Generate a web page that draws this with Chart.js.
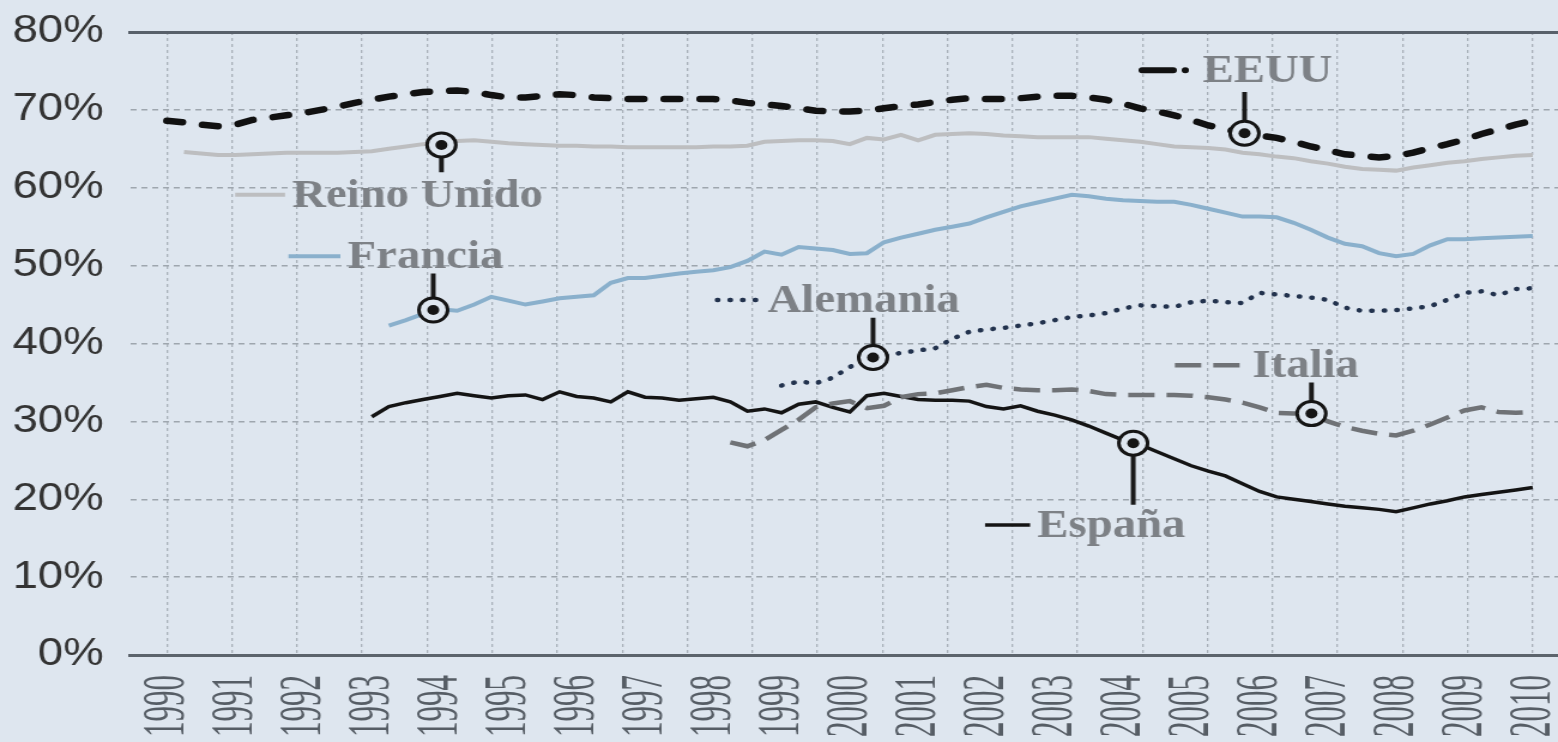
<!DOCTYPE html>
<html>
<head>
<meta charset="utf-8">
<script src="https://cdn.jsdelivr.net/npm/chart.js@4.4.1/dist/chart.umd.min.js"></script>
<style>
  html, body { margin: 0; padding: 0; background: #dee6ef; overflow: hidden; }
  /* the reference picture is stretched sideways, so the chart is drawn narrower and widened */
  #wrap { width: 1300px; height: 742px; transform: scaleX(1.19846); transform-origin: 0 0; }
</style>
</head>
<body>
<div id="wrap"><canvas id="chart"></canvas></div>
<script>
// quarterly periods
const quarters = [
  1990, 1990.25, 1990.5, 1990.75, 1991, 1991.25, 1991.5, 1991.75,
  1992, 1992.25, 1992.5, 1992.75, 1993, 1993.25, 1993.5, 1993.75,
  1994, 1994.25, 1994.5, 1994.75, 1995, 1995.25, 1995.5, 1995.75,
  1996, 1996.25, 1996.5, 1996.75, 1997, 1997.25, 1997.5, 1997.75,
  1998, 1998.25, 1998.5, 1998.75, 1999, 1999.25, 1999.5, 1999.75,
  2000, 2000.25, 2000.5, 2000.75, 2001, 2001.25, 2001.5, 2001.75,
  2002, 2002.25, 2002.5, 2002.75, 2003, 2003.25, 2003.5, 2003.75,
  2004, 2004.25, 2004.5, 2004.75, 2005, 2005.25, 2005.5, 2005.75,
  2006, 2006.25, 2006.5, 2006.75, 2007, 2007.25, 2007.5, 2007.75,
  2008, 2008.25, 2008.5, 2008.75, 2009, 2009.25, 2009.5, 2009.75,
  2010
];
const years = [1990, 1991, 1992, 1993, 1994, 1995, 1996, 1997, 1998, 1999, 2000,
  2001, 2002, 2003, 2004, 2005, 2006, 2007, 2008, 2009, 2010];
const yTicks = [0, 10, 20, 30, 40, 50, 60, 70, 80];

const eeuu = [
  68.6, 68.4, 68.1, 67.9, 68.1, 68.7, 69.0, 69.3,
  69.6, 70.0, 70.4, 70.9, 71.3, 71.7, 72.0, 72.3,
  72.4, 72.5, 72.3, 71.9, 71.6, 71.6, 71.8, 72.0,
  71.9, 71.6, 71.5, 71.4, 71.4, 71.4, 71.4, 71.4,
  71.4, 71.2, 70.9, 70.7, 70.5, 70.2, 69.9, 69.8,
  69.8, 69.9, 70.2, 70.5, 70.7, 71.0, 71.3, 71.5,
  71.4, 71.4, 71.5, 71.7, 71.8, 71.8, 71.6, 71.3,
  70.8, 70.2, 69.8, 69.3, 68.7, 68.0, 67.5, 67.0,
  66.7, 66.4, 65.9, 65.3, 64.8, 64.3, 64.1, 63.9,
  64.1, 64.5, 65.1, 65.6, 66.2, 66.9, 67.5, 68.1,
  68.6
];
const reinoUnido = [
  null, 64.6, 64.4, 64.2, 64.2, 64.3, 64.4, 64.5,
  64.5, 64.5, 64.5, 64.6, 64.7, 65.0, 65.3, 65.6,
  65.8, 66.0, 66.1, 65.9, 65.7, 65.6, 65.5, 65.4,
  65.4, 65.3, 65.3, 65.2, 65.2, 65.2, 65.2, 65.2,
  65.3, 65.3, 65.4, 65.9, 66.0, 66.1, 66.1, 66.0,
  65.6, 66.4, 66.2, 66.8, 66.1, 66.8, 66.9, 67.0,
  66.9, 66.7, 66.6, 66.5, 66.5, 66.5, 66.5, 66.3,
  66.1, 65.9, 65.6, 65.3, 65.2, 65.1, 64.9, 64.5,
  64.3, 64.0, 63.8, 63.4, 63.1, 62.7, 62.4, 62.3,
  62.2, 62.6, 62.9, 63.2, 63.4, 63.7, 63.9, 64.1,
  64.2
];
const francia = [
  null, null, null, null, null, null, null, null,
  null, null, null, null, null, 42.3, 43.0, 43.8,
  44.4, 44.2, 45.0, 46.0, 45.5, 45.0, 45.4, 45.8,
  46.0, 46.2, 47.8, 48.4, 48.4, 48.7, 49.0, 49.2,
  49.4, 49.8, 50.6, 51.8, 51.4, 52.4, 52.2, 52.0,
  51.5, 51.6, 53.0, 53.6, 54.1, 54.6, 55.0, 55.4,
  56.2, 56.9, 57.6, 58.1, 58.6, 59.1, 58.9, 58.6,
  58.4, 58.3, 58.2, 58.2, 57.8, 57.3, 56.8, 56.3,
  56.3, 56.2, 55.5, 54.6, 53.6, 52.8, 52.5, 51.6,
  51.2, 51.5, 52.6, 53.4, 53.4, 53.5, 53.6, 53.7,
  53.8
];
const alemania = [
  null, null, null, null, null, null, null, null,
  null, null, null, null, null, null, null, null,
  null, null, null, null, null, null, null, null,
  null, null, null, null, null, null, null, null,
  null, null, null, null, 34.6, 35.1, 34.9, 35.6,
  37.0, 37.8, 38.4, 38.8, 39.1, 39.4, 40.6, 41.5,
  41.8, 42.0, 42.3, 42.6, 43.0, 43.4, 43.6, 43.9,
  44.5, 44.9, 44.8, 44.7, 45.3, 45.5, 45.3, 45.2,
  46.5, 46.3, 46.1, 45.9, 45.6, 44.6, 44.2, 44.2,
  44.3, 44.5, 44.8, 45.6, 46.5, 46.7, 46.2, 47.0,
  47.1
];
const italia = [
  null, null, null, null, null, null, null, null,
  null, null, null, null, null, null, null, null,
  null, null, null, null, null, null, null, null,
  null, null, null, null, null, null, null, null,
  null, 27.3, 26.8, 27.6, 28.9, 30.2, 31.8, 32.3,
  32.6, 31.7, 32.0, 33.1, 33.5, 33.6, 34.0, 34.4,
  34.7, 34.3, 34.1, 34.0, 34.0, 34.1, 33.9, 33.5,
  33.4, 33.4, 33.4, 33.4, 33.3, 33.1, 32.8, 32.4,
  31.8, 31.1, 31.0, 31.0, 30.0, 29.3, 28.8, 28.4,
  28.2, 28.8, 29.6, 30.5, 31.4, 31.8, 31.2, 31.1,
  31.2
];
const espana = [
  null, null, null, null, null, null, null, null,
  null, null, null, null, 30.6, 31.9, 32.4, 32.8,
  33.2, 33.6, 33.3, 33.0, 33.3, 33.4, 32.8, 33.8,
  33.2, 33.0, 32.5, 33.8, 33.1, 33.0, 32.7, 32.9,
  33.1, 32.5, 31.3, 31.6, 31.1, 32.2, 32.5, 31.8,
  31.2, 33.3, 33.6, 33.2, 32.8, 32.7, 32.7, 32.6,
  31.9, 31.6, 32.0, 31.3, 30.8, 30.2, 29.4, 28.5,
  27.6, 27.0, 26.1, 25.2, 24.3, 23.6, 23.0, 22.0,
  21.0, 20.3, 20.0, 19.7, 19.4, 19.1, 18.9, 18.7,
  18.4, 18.9, 19.4, 19.8, 20.3, 20.6, 20.9, 21.2,
  21.5
];

// callout markers: ring on the curve and a stick towards the name
const markerYears = [1994.02, 1993.9, 2000.34, 2005.78, 2006.76, 2004.15];
const markerValues = [65.5, 44.3, 38.2, 67.0, 31.0, 27.2];
const stickEnds = [62.0, 49.0, 43.3, 72.3, 35.0, 19.3];

const bg = '#dee6ef';
const xMin = 1989.46, xMax = 2010.37;
const gridYears = Array.from({length: 22}, (_, k) => 1990 + k * 20 / 21);

const styles = {
  eeuu: {color: '#111111', width: 6.5, dash: [13, 17], cap: 'round'},
  reino: {color: '#bdbec0', width: 4, dash: [], cap: 'butt'},
  francia: {color: '#8ab0cc', width: 4, dash: [], cap: 'butt'},
  alemania: {color: '#22324d', width: 4.5, dash: [0.5, 10], cap: 'round'},
  italia: {color: '#6f7276', width: 4.5, dash: [22, 10], cap: 'butt'},
  espana: {color: '#141414', width: 3.5, dash: [], cap: 'butt'}
};

// name tags with a short sample of the line
const tags = [
  {name: 'Reino Unido', from: 1991.0, to: 1991.73, value: 59.1, s: styles.reino},
  {name: 'Francia', from: 1991.78, to: 1992.54, value: 51.2, s: styles.francia},
  {name: 'Alemania', from: 1998.06, to: 1998.69, value: 45.6, s: styles.alemania},
  {name: 'EEUU', from: 2004.28, to: 2005.06, value: 75.1, s: {color: '#111111', width: 6, dash: [26, 10, 0.1, 40], cap: 'round'}},
  {name: 'Italia', from: 2004.76, to: 2005.79, value: 37.2, s: styles.italia},
  {name: 'España', from: 2001.98, to: 2002.64, value: 16.7, s: styles.espana}
];

const pts = vals => quarters.map((q, i) => ({x: q, y: vals[i]}));

function series(label, vals, s) {
  return {
    label: label,
    data: pts(vals),
    borderColor: s.color,
    borderWidth: s.width,
    borderDash: s.dash,
    borderCapStyle: s.cap,
    pointRadius: 0,
    tension: 0,
    spanGaps: false,
    fill: false
  };
}

const sticks = [];
markerYears.forEach((yr, i) => {
  sticks.push({x: yr, y: markerValues[i]}, {x: yr, y: stickEnds[i]}, {x: yr, y: null});
});
const rings = markerYears.map((yr, i) => ({x: yr, y: markerValues[i]}));

const tagPlugin = {
  id: 'tags',
  afterDatasetsDraw(chart) {
    const {ctx, scales: {x, y}} = chart;
    ctx.save();
    tags.forEach(t => {
      const x0 = x.getPixelForValue(t.from);
      const x1 = x.getPixelForValue(t.to);
      const py = y.getPixelForValue(t.value);
      ctx.beginPath();
      ctx.strokeStyle = t.s.color;
      ctx.lineWidth = t.s.width;
      ctx.lineCap = t.s.cap;
      ctx.setLineDash(t.s.dash);
      ctx.moveTo(x0, py);
      ctx.lineTo(x1, py);
      ctx.stroke();
      ctx.setLineDash([]);
      ctx.fillStyle = '#7d8186';
      ctx.font = 'bold 39px "Liberation Serif"';
      ctx.textAlign = 'left';
      ctx.textBaseline = 'alphabetic';
      ctx.fillText(t.name, x1 + 6, py + 12);
    });
    ctx.restore();
  }
};

const yearPlugin = {
  id: 'years',
  afterDraw(chart) {
    const {ctx, chartArea, scales: {x}} = chart;
    ctx.save();
    ctx.fillStyle = '#565d65';
    ctx.font = '50px "Liberation Serif"';
    ctx.textAlign = 'right';
    ctx.textBaseline = 'middle';
    years.forEach(yr => {
      ctx.save();
      ctx.translate(x.getPixelForValue(yr) + 1, chartArea.bottom + 20);
      ctx.rotate(-Math.PI / 2);
      ctx.scale(0.62, 1);
      ctx.fillText(String(yr), 0, 0);
      ctx.restore();
    });
    ctx.restore();
  }
};

// keep the axes from reserving extra room around the plot
const flatX = s => { s.height = 0; s.paddingLeft = 0; s.paddingRight = 0; s.paddingTop = 0; s.paddingBottom = 0; };
const fitY = s => { s.width = 98; s.paddingTop = 0; s.paddingBottom = 0; s.paddingLeft = 0; s.paddingRight = 0; };

new Chart(document.getElementById('chart'), {
  type: 'line',
  data: {
    datasets: [
      {label: 'dot', data: rings, showLine: false, pointRadius: 5, pointBackgroundColor: '#151515', pointBorderWidth: 0},
      {label: 'ring', data: rings, showLine: false, pointRadius: 12, pointBackgroundColor: bg, pointBorderColor: '#151515', pointBorderWidth: 3},
      {label: 'stick', data: sticks, borderColor: '#1a1a1a', borderWidth: 4, pointRadius: 0, spanGaps: false},
      series('EEUU', eeuu, styles.eeuu),
      series('Reino Unido', reinoUnido, styles.reino),
      series('Francia', francia, styles.francia),
      series('Alemania', alemania, styles.alemania),
      series('Italia', italia, styles.italia),
      series('España', espana, styles.espana)
    ]
  },
  options: {
    responsive: true,
    maintainAspectRatio: false,
    animation: false,
    events: [],
    devicePixelRatio: 1,
    layout: {autoPadding: false, padding: {left: 10.5, right: 0, top: 32, bottom: 87}},
    plugins: {legend: {display: false}, tooltip: {enabled: false}},
    scales: {
      x: {
        type: 'linear', position: 'bottom', min: xMin, max: xMax,
        afterBuildTicks: s => { s.ticks = years.map(v => ({value: v})); },
        afterFit: flatX,
        ticks: {display: false},
        grid: {display: false, drawTicks: false},
        border: {display: true, color: '#5c646c', width: 3}
      },
      xg: {
        type: 'linear', position: 'bottom', min: xMin, max: xMax,
        afterBuildTicks: s => { s.ticks = gridYears.map(v => ({value: v})); },
        afterFit: flatX,
        ticks: {display: false},
        grid: {color: '#a8b0b9', lineWidth: 1.3, drawTicks: false},
        border: {display: false, dash: [3, 3]}
      },
      top: {
        type: 'linear', position: 'top', min: xMin, max: xMax,
        afterFit: flatX,
        ticks: {display: false},
        grid: {display: false, drawTicks: false},
        border: {display: true, color: '#58606a', width: 3}
      },
      y: {
        min: 0, max: 80,
        afterBuildTicks: s => { s.ticks = yTicks.map(v => ({value: v})); },
        afterFit: fitY,
        ticks: {
          callback: v => v + '%',
          color: '#333333',
          padding: 22,
          font: {family: '"Liberation Sans", Arial, sans-serif', size: 38}
        },
        grid: {
          color: c => (c.tick && (c.tick.value === 0 || c.tick.value === 80)) ? 'rgba(0,0,0,0)' : '#9ea6ae',
          lineWidth: 1.5,
          drawTicks: false
        },
        border: {display: false, dash: [5, 4]}
      }
    }
  },
  plugins: [tagPlugin, yearPlugin]
});
</script>
</body>
</html>
